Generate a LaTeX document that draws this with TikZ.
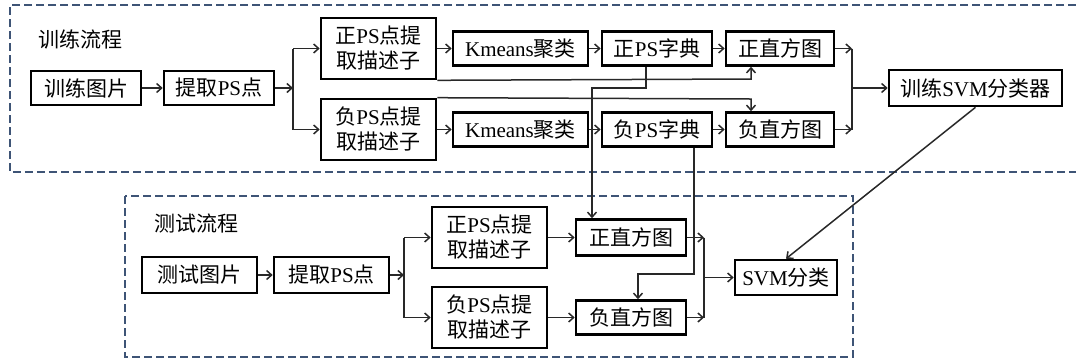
\documentclass[tikz,border=0pt]{standalone}
\usepackage{fontspec}
\setmainfont{Liberation Serif}
\newfontfamily\zhfont{Noto Sans CJK SC}
\newcommand\zh[1]{{\zhfont #1}}
\usetikzlibrary{arrows.meta}
\definecolor{dashblue}{RGB}{62,84,118}
\definecolor{linegray}{RGB}{40,40,40}
\begin{document}
\begin{tikzpicture}[x=1pt,y=-1pt,
  box/.style={draw=black,line width=2.6pt,inner sep=0pt,align=center,
    font=\fontsize{21}{25}\selectfont,fill=white},
  lab/.style={inner sep=0pt,font=\fontsize{21}{25}\selectfont},
  conn/.style={draw=linegray,line width=1.5pt},
  arr/.style={conn,-{Straight Barb[length=5pt,width=9pt,line width=1.5pt]}},
  dbox/.style={draw=dashblue,line width=2.4pt,dash pattern=on 8pt off 4pt}]
\useasboundingbox (0,0) rectangle (1076,360);
% group frames
\draw[dbox] (1076,5) -- (10,5) -- (10,172) -- (1076,172);
\draw[dbox] (125,196) rectangle (853,357);
\node[lab] (L1) at (80,39) {\zh{训练流程}};
\node[lab] (L2) at (196,223) {\zh{测试流程}};
% training nodes
\node[box,minimum width=110pt,minimum height=34pt] (t1) at (86,88) {\zh{训练图片}};
\node[box,minimum width=110pt,minimum height=34pt] (t2) at (219,88) {\zh{提取}PS\zh{点}};
\node[box,minimum width=115pt,minimum height=61pt] (p1) at (378.5,48.5) {\zh{正}PS\zh{点提}\\\zh{取描述子}};
\node[box,minimum width=115pt,minimum height=61pt] (n1) at (378.5,129.5) {\zh{负}PS\zh{点提}\\\zh{取描述子}};
\node[box,minimum width=135pt,minimum height=34pt] (k1) at (520.5,48.5) {Kmeans\zh{聚类}};
\node[box,minimum width=135pt,minimum height=34pt] (k2) at (520.5,129.5) {Kmeans\zh{聚类}};
\node[box,minimum width=110pt,minimum height=34pt] (d1) at (657,48.5) {\zh{正}PS\zh{字典}};
\node[box,minimum width=110pt,minimum height=34pt] (d2) at (657,129.5) {\zh{负}PS\zh{字典}};
\node[box,minimum width=108pt,minimum height=34pt] (h1) at (780,48.5) {\zh{正直方图}};
\node[box,minimum width=108pt,minimum height=34pt] (h2) at (780,129.5) {\zh{负直方图}};
\node[box,minimum width=173pt,minimum height=36pt] (svm1) at (975.5,88) {\zh{训练}SVM\zh{分类器}};
% test nodes
\node[box,minimum width=115pt,minimum height=36pt] (s1) at (199.5,275) {\zh{测试图片}};
\node[box,minimum width=115pt,minimum height=36pt] (s2) at (331.5,275) {\zh{提取}PS\zh{点}};
\node[box,minimum width=115pt,minimum height=61pt] (s3) at (489.5,237.5) {\zh{正}PS\zh{点提}\\\zh{取描述子}};
\node[box,minimum width=115pt,minimum height=61pt] (s4) at (489.5,317.5) {\zh{负}PS\zh{点提}\\\zh{取描述子}};
\node[box,minimum width=110pt,minimum height=36pt] (h3) at (631,237.5) {\zh{正直方图}};
\node[box,minimum width=110pt,minimum height=34pt] (h4) at (631,317.5) {\zh{负直方图}};
\node[box,minimum width=102pt,minimum height=35pt] (svm2) at (786,277.5) {SVM\zh{分类}};
% training connectors
\coordinate (f1) at (293,88);
\draw[arr] (t1.east) -- (t2.west);
\draw[arr] (t2.east) -- (f1);
\draw[conn] (p1.west -| f1) -- (n1.west -| f1);
\draw[arr] (p1.west -| f1) -- (p1.west);
\draw[arr] (n1.west -| f1) -- (n1.west);
\draw[arr] (p1.east) -- (k1.west);
\draw[arr] (n1.east) -- (k2.west);
\draw[arr] (k1.east) -- (d1.west);
\draw[arr] (k2.east) -- (d2.west);
\draw[arr] (d1.east) -- (h1.west);
\draw[arr] (d2.east) -- (h2.west);
\coordinate (c1) at (751,79);
\coordinate (c2) at (751,99);
\draw[arr] (p1.south east) -- (c1) -- (c1 |- h1.south);
\draw[arr] (n1.north east) -- (c2) -- (c2 |- h2.north);
\coordinate (f2) at (852,88);
\draw[arr] (h1.east) -- (h1.east -| f2);
\draw[arr] (h2.east) -- (h2.east -| f2);
\draw[conn] (h1.east -| f2) -- (h2.east -| f2);
\draw[arr] (f2) -- (svm1.west);
% dictionaries to test histograms
\coordinate (c3) at (646,88);
\coordinate (c4) at (592,88);
\draw[arr] (d1.south -| c3) -- (c3) -- (c4) -- (c4 |- h3.north);
\coordinate (c5) at (694,274);
\coordinate (c6) at (638,274);
\draw[arr] (d2.south -| c5) -- (c5) -- (c6) -- (c6 |- h4.north);
% test connectors
\coordinate (f3) at (404,275);
\draw[arr] (s1.east) -- (s2.west);
\draw[arr] (s2.east) -- (f3);
\draw[conn] (s3.west -| f3) -- (s4.west -| f3);
\draw[arr] (s3.west -| f3) -- (s3.west);
\draw[arr] (s4.west -| f3) -- (s4.west);
\draw[arr] (s3.east) -- (h3.west);
\draw[arr] (s4.east) -- (h4.west);
\coordinate (f4) at (704,277.5);
\draw[arr] (h3.east) -- (h3.east -| f4);
\draw[arr] (h4.east) -- (h4.east -| f4);
\draw[conn] (h3.east -| f4) -- (h4.east -| f4);
\draw[arr] (f4) -- (svm2.west);
% trained classifier to test classifier
\draw[arr] (svm1.south) -- (svm2.north);
\end{tikzpicture}
\end{document}
